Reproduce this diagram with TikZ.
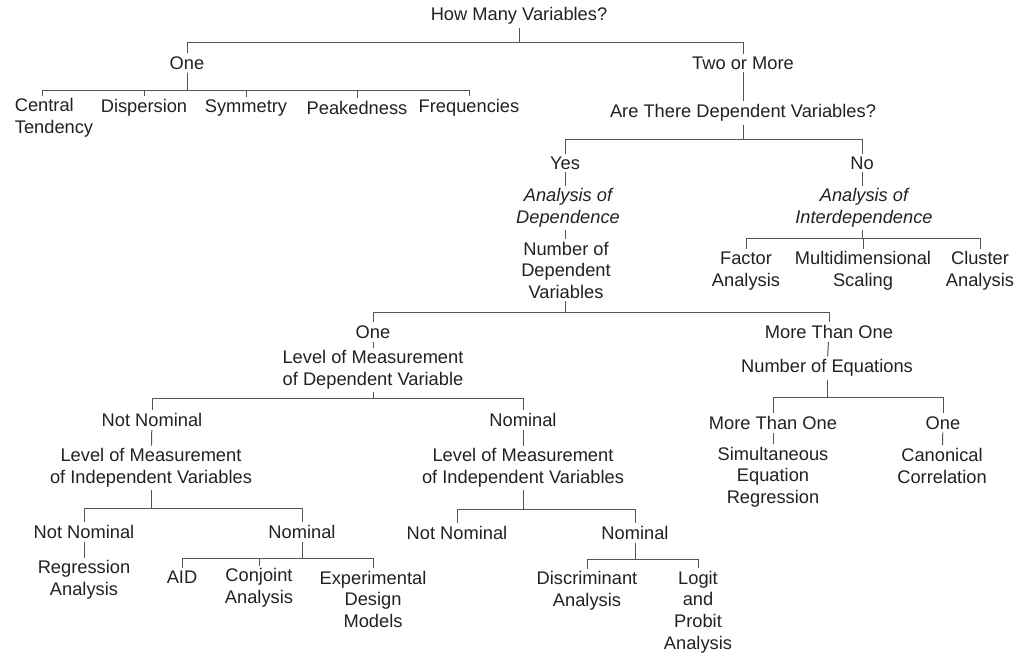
\documentclass[tikz,border=0pt]{standalone}
\usepackage{fontspec}
\setmainfont{Liberation Sans}
\usetikzlibrary{positioning}

\definecolor{inkc}{HTML}{222222}
\definecolor{linec}{HTML}{555555}

\tikzset{
    lbl/.style={text=inkc, inner sep=2pt, align=center,
        font=\fontsize{13}{15.3}\selectfont},
    ital/.style={lbl, font=\fontsize{13}{15.3}\selectfont\itshape},
    link/.style={draw=linec, line width=0.7pt}
}

\begin{document}
\begin{tikzpicture}[x=0.025cm, y=-0.025cm]
    \fill[white] (0,0) rectangle (1019,655);
    \useasboundingbox (0,0) rectangle (1019,655);

    % the heights of the horizontal bars
    \coordinate (b0) at (0,42);
    \coordinate (b1) at (0,90);
    \coordinate (b2) at (0,139);
    \coordinate (b3) at (0,238);
    \coordinate (b4) at (0,312);
    \coordinate (b5) at (0,398);
    \coordinate (b6) at (0,508);
    \coordinate (b7) at (0,509);
    \coordinate (b8) at (0,558);
    \coordinate (b9) at (0,559);
    \coordinate (b10) at (0,397);

    % the texts
    \node[lbl] (root) at (519,16) {How Many Variables?};
    \node[lbl] (one) at (187,63) {One};
    \node[lbl] (two) at (743,63) {Two or More};

    \node[lbl, align=left] (ct) at (54,118) {Central\\Tendency};
    \node[lbl] (disp) at (144,108) {Dispersion};
    \node[lbl] (sym) at (246,108) {Symmetry};
    \node[lbl] (peak) at (357,108) {Peakedness};
    \node[lbl] (freq) at (469,108) {Frequencies};

    \node[lbl] (dep) at (743,113) {Are There Dependent Variables?};
    \node[lbl] (yes) at (565,163) {Yes};
    \node[lbl] (no) at (862,163) {No};
    \node[ital] (aod) at (568,208) {Analysis of\\Dependence};
    \node[ital] (aoi) at (864,208) {Analysis of\\Interdependence};
    \node[lbl] (ndv) at (566,270) {Number of\\Dependent\\Variables};

    \node[lbl] (fa) at (746,271) {Factor\\Analysis};
    \node[lbl] (mds) at (863,271) {Multidimensional\\Scaling};
    \node[lbl] (cla) at (980,271) {Cluster\\Analysis};

    \node[lbl] (one2) at (373,332) {One};
    \node[lbl] (mto) at (829,332) {More Than One};
    \node[lbl] (lmd) at (373,370) {Level of Measurement\\of Dependent Variable};
    \node[lbl] (noe) at (827,368) {Number of Equations};

    \node[lbl] (nn1) at (152,420) {Not Nominal};
    \node[lbl] (nom1) at (523,420) {Nominal};
    \node[lbl] (lmi1) at (151,468) {Level of Measurement\\of Independent Variables};
    \node[lbl] (lmi2) at (523,468) {Level of Measurement\\of Independent Variables};

    \node[lbl] (mto2) at (773,423) {More Than One};
    \node[lbl] (one3) at (943,423) {One};
    \node[lbl] (seq) at (773,477) {Simultaneous\\Equation\\Regression};
    \node[lbl] (cc) at (942,466) {Canonical\\Correlation};

    \node[lbl] (nn2) at (84,532) {Not Nominal};
    \node[lbl] (nom2) at (302,532) {Nominal};
    \node[lbl] (nn3) at (457,533) {Not Nominal};
    \node[lbl] (nom3) at (635,533) {Nominal};

    \node[lbl] (ra) at (84,580) {Regression\\Analysis};
    \node[lbl] (aid) at (182,577) {AID};
    \node[lbl] (cja) at (259,588) {Conjoint\\Analysis};
    \node[lbl] (edm) at (373,599) {Experimental\\Design\\Models};
    \node[lbl] (da) at (587,591) {Discriminant\\Analysis};
    \node[lbl] (lpa) at (698,612) {Logit\\and\\Probit\\Analysis};

    % draw the branches
    \draw[link] (root.south) -- (root.south |- b0) -| (one.north);
    \draw[link] (root.south) -- (root.south |- b0) -| (two.north);

    \draw[link] (one.south) -- (one.south |- b1) -| ([xshift=-8.5pt]ct.north);
    \draw[link] (one.south) -- (one.south |- b1) -| (disp.north);
    \draw[link] (one.south) -- (one.south |- b1) -| (sym.north);
    \draw[link] (one.south) -- (one.south |- b1) -| (peak.north);
    \draw[link] (one.south) -- (one.south |- b1) -| (freq.north);

    \draw[link] (two) -- (dep);
    \draw[link] (dep.south) -- (dep.south |- b2) -| (yes.north);
    \draw[link] (dep.south) -- (dep.south |- b2) -| (no.north);

    \draw[link] (yes.south) -- (yes.south |- aod.north);
    \draw[link] (aod.south -| yes) -- (ndv.north -| yes);
    \draw[link] (no.south) -- (no.south |- aoi.north);

    \draw[link] (aoi.south -| no) -- (no |- b3) -| (fa.north);
    \draw[link] (aoi.south -| no) -- (no |- b3) -| (mds.north);
    \draw[link] (aoi.south -| no) -- (no |- b3) -| (cla.north);

    \draw[link] (ndv.south -| yes) -- (yes |- b4) -| (one2.north);
    \draw[link] (ndv.south -| yes) -- (yes |- b4) -| (mto.north);

    \draw[link] (one2) -- (lmd);
    \draw[link] (mto) -- (noe);

    \draw[link] (lmd.south) -- (lmd.south |- b5) -| (nn1.north);
    \draw[link] (lmd.south) -- (lmd.south |- b5) -| (nom1.north);

    \draw[link] (noe.south) -- (noe.south |- b10) -| (mto2.north);
    \draw[link] (noe.south) -- (noe.south |- b10) -| (one3.north);
    \draw[link] (mto2) -- (seq);
    \draw[link] (one3) -- (cc);

    \draw[link] (nn1) -- (lmi1);
    \draw[link] (nom1) -- (lmi2);

    \draw[link] (lmi1.south) -- (lmi1.south |- b6) -| (nn2.north);
    \draw[link] (lmi1.south) -- (lmi1.south |- b6) -| (nom2.north);
    \draw[link] (lmi2.south) -- (lmi2.south |- b7) -| (nn3.north);
    \draw[link] (lmi2.south) -- (lmi2.south |- b7) -| (nom3.north);

    \draw[link] (nn2) -- (ra);
    \draw[link] (nom2.south) -- (nom2.south |- b8) -| (aid.north);
    \draw[link] (nom2.south) -- (nom2.south |- b8) -| (cja.north);
    \draw[link] (nom2.south) -- (nom2.south |- b8) -| (edm.north);

    \draw[link] (nom3.south) -- (nom3.south |- b9) -| (da.north);
    \draw[link] (nom3.south) -- (nom3.south |- b9) -| (lpa.north);

\end{tikzpicture}
\end{document}
